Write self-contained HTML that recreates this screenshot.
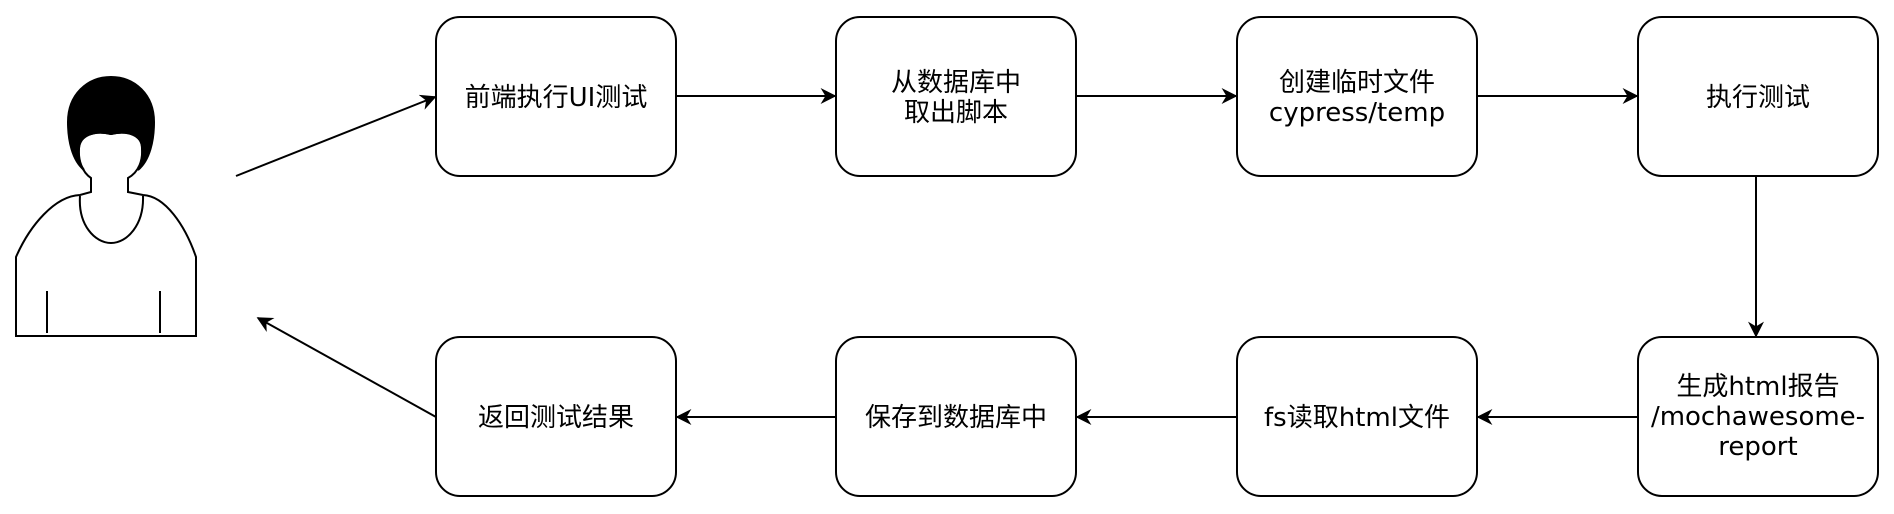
<!DOCTYPE html>
<html><head><meta charset="utf-8"><style>
html,body{margin:0;padding:0;background:#fff;}
svg{display:block}
text{font-family:"DejaVu Sans","Noto Sans CJK SC",sans-serif;font-size:26px;fill:#000;text-anchor:middle;}
</style></head><body>
<svg width="1894" height="514" viewBox="0 0 1894 514" xmlns="http://www.w3.org/2000/svg">
<defs>
<marker id="a" viewBox="0 0 10 10" refX="9" refY="5" markerWidth="16" markerHeight="16" markerUnits="userSpaceOnUse" orient="auto">
<path d="M0,0 L10,5 L0,10 L3,5 Z" fill="#000"/>
</marker>
</defs>
<g fill="none" stroke="#000" stroke-width="2">
<path d="M16,257 C30,225 55,196 80,195 L91,192 L91,178 C82,172 78,160 79,148 C80,135 95,130 111,134 C127,130 142,135 142,148 C143,160 139,172 128,178 L128,192 L143,195 C165,196 185,225 196,257 L196,336 L16,336 Z" fill="#fff"/>
<path d="M111,134 C127,130 142,135 142,148 C143,158 141,165 138,170 C150,160 154,140 154,122 C154,95 135,77 111,77 C87,77 68,95 68,122 C68,140 72,160 84,170 C80,165 78,158 79,148 C80,135 95,130 111,134 Z" fill="#000"/>
<path d="M80,196 C78,225 95,243 111,243 C127,243 144,225 143,196"/>
<line x1="47" y1="291" x2="47" y2="333"/>
<line x1="160" y1="291" x2="160" y2="333"/>
<rect x="436" y="17" width="240" height="159" rx="24"/>
<rect x="836" y="17" width="240" height="159" rx="24"/>
<rect x="1237" y="17" width="240" height="159" rx="24"/>
<rect x="1638" y="17" width="240" height="159" rx="24"/>
<rect x="436" y="337" width="240" height="159" rx="24"/>
<rect x="836" y="337" width="240" height="159" rx="24"/>
<rect x="1237" y="337" width="240" height="159" rx="24"/>
<rect x="1638" y="337" width="240" height="159" rx="24"/>
<line x1="236" y1="176" x2="435" y2="97" marker-end="url(#a)"/>
<line x1="676" y1="96" x2="835" y2="96" marker-end="url(#a)"/>
<line x1="1076" y1="96" x2="1236" y2="96" marker-end="url(#a)"/>
<line x1="1477" y1="96" x2="1637" y2="96" marker-end="url(#a)"/>
<line x1="1756" y1="176" x2="1756" y2="336" marker-end="url(#a)"/>
<line x1="1638" y1="417" x2="1478" y2="417" marker-end="url(#a)"/>
<line x1="1237" y1="417" x2="1077" y2="417" marker-end="url(#a)"/>
<line x1="836" y1="417" x2="677" y2="417" marker-end="url(#a)"/>
<line x1="436" y1="417" x2="258" y2="318" marker-end="url(#a)"/>
</g>
<text x="556" y="106">前端执行UI测试</text>
<text x="956" y="91">从数据库中</text>
<text x="956" y="121">取出脚本</text>
<text x="1357" y="91">创建临时文件</text>
<text x="1357" y="121">cypress/temp</text>
<text x="1758" y="106">执行测试</text>
<text x="1758" y="395">生成html报告</text>
<text x="1758" y="425">/mochawesome-</text>
<text x="1758" y="455">report</text>
<text x="1357" y="426">fs读取html文件</text>
<text x="956" y="426">保存到数据库中</text>
<text x="556" y="426">返回测试结果</text>
</svg>
</body></html>
